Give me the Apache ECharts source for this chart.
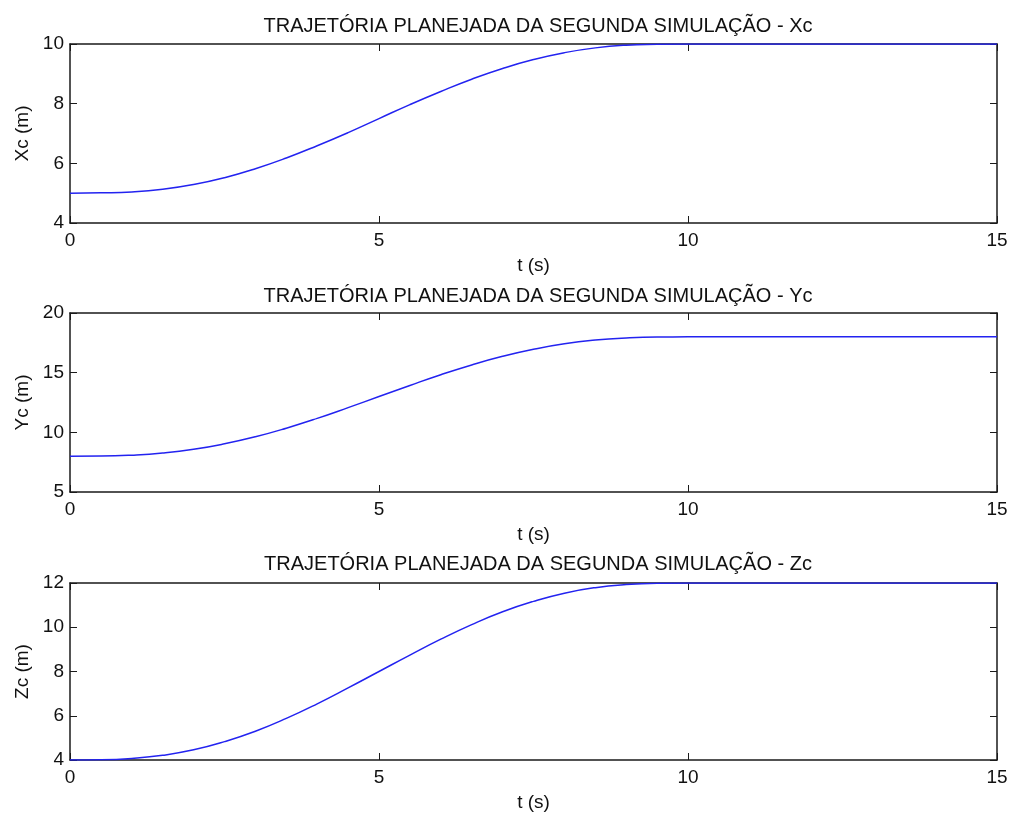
<!DOCTYPE html>
<html>
<head>
<meta charset="utf-8">
<script src="https://cdn.jsdelivr.net/npm/echarts@6/dist/echarts.min.js"></script>
<style>
  html, body { margin: 0; padding: 0; background: #fff; }
  #chart { width: 1011px; height: 818px; }
</style>
</head>
<body>
<div id="chart"></div>
<script>
// tempo (s) e trajetórias
var tempo = [0, 0.5, 1, 1.5, 2, 2.5, 3, 3.5, 4, 4.5, 5, 5.5, 6, 6.5, 7, 7.5, 8, 8.5, 9, 9.5, 10,
  10.5, 11, 11.5, 12, 12.5, 13, 13.5, 14, 14.5, 15];
var xc = [5, 5.01, 5.04, 5.13, 5.29, 5.52, 5.82, 6.18, 6.59, 7.03, 7.5, 7.97, 8.41, 8.82, 9.18, 9.48, 9.71, 9.87, 9.96, 9.99, 10,
  10, 10, 10, 10, 10, 10, 10, 10, 10, 10];
var yc = [8, 8.01, 8.09, 8.27, 8.58, 9.04, 9.63, 10.35, 11.17, 12.07, 13, 13.93, 14.83, 15.65, 16.37, 16.96, 17.42, 17.73, 17.91, 17.99, 18,
  18, 18, 18, 18, 18, 18, 18, 18, 18, 18];
var zc = [4, 4.01, 4.07, 4.21, 4.46, 4.83, 5.3, 5.88, 6.54, 7.26, 8, 8.74, 9.46, 10.12, 10.7, 11.17, 11.54, 11.79, 11.93, 11.99, 12,
  12, 12, 12, 12, 12, 12, 12, 12, 12, 12];

var titulos = [
  "TRAJETÓRIA PLANEJADA DA SEGUNDA SIMULAÇÃO - Xc",
  "TRAJETÓRIA PLANEJADA DA SEGUNDA SIMULAÇÃO - Yc",
  "TRAJETÓRIA PLANEJADA DA SEGUNDA SIMULAÇÃO - Zc"
];
var nomesY = ["Xc (m)", "Yc (m)", "Zc (m)"];
var limitesY = [[4, 10, 2], [5, 20, 5], [4, 12, 2]];
var series = [xc, yc, zc];

var fonte = "Liberation Sans, Arial, sans-serif";
var tam = 19;
var corEixo = "#1a1a1a";
var grids = [
  { left: 70, right: 14, top: 44, height: 179 },
  { left: 70, right: 14, top: 313, height: 179 },
  { left: 70, right: 14, top: 583, height: 177 }
];
var titleTops = [11, 281, 549];

var myChart = echarts.init(document.getElementById("chart"));

var xAxis = [], yAxis = [], serie = [], title = [];
for (var i = 0; i < 3; i++) {
  var lim = limitesY[i];
  title.push({
    text: titulos[i],
    left: 533,
    top: titleTops[i],
    textAlign: "center",
    textStyle: { fontFamily: fonte, fontSize: 20, fontWeight: "normal", color: "#111" }
  });
  // eixo x inferior
  xAxis.push({
    type: "value", gridIndex: i, min: 0, max: 15, interval: 5,
    name: "t (s)", nameLocation: "middle", nameGap: 33,
    nameTextStyle: { fontFamily: fonte, fontSize: tam, color: "#111" },
    axisLine: { onZero: false, lineStyle: { color: corEixo, width: 1.5 } },
    axisTick: { inside: true, length: 7, lineStyle: { color: corEixo } },
    axisLabel: { margin: 8, fontFamily: fonte, fontSize: tam, color: "#111" },
    splitLine: { show: false }
  });
  // eixo x superior (só marcas)
  xAxis.push({
    type: "value", gridIndex: i, position: "top", min: 0, max: 15, interval: 5,
    axisLine: { onZero: false, lineStyle: { color: corEixo, width: 1.5 } },
    axisTick: { inside: true, length: 7, lineStyle: { color: corEixo } },
    axisLabel: { show: false },
    splitLine: { show: false }
  });
  yAxis.push({
    type: "value", gridIndex: i, min: lim[0], max: lim[1], interval: lim[2],
    name: nomesY[i], nameLocation: "middle", nameGap: 37,
    nameTextStyle: { fontFamily: fonte, fontSize: tam, color: "#111" },
    axisLine: { show: true, onZero: false, lineStyle: { color: corEixo, width: 1.5 } },
    axisTick: { show: true, inside: true, length: 7, lineStyle: { color: corEixo } },
    axisLabel: { margin: 6, fontFamily: fonte, fontSize: tam, color: "#111" },
    splitLine: { show: false }
  });
  yAxis.push({
    type: "value", gridIndex: i, position: "right", min: lim[0], max: lim[1], interval: lim[2],
    axisLine: { show: true, onZero: false, lineStyle: { color: corEixo, width: 1.5 } },
    axisTick: { show: true, inside: true, length: 7, lineStyle: { color: corEixo } },
    axisLabel: { show: false },
    splitLine: { show: false }
  });
  var dados = [];
  for (var k = 0; k < tempo.length; k++) {
    dados.push([tempo[k], series[i][k]]);
  }
  serie.push({
    type: "line", xAxisIndex: 2 * i, yAxisIndex: 2 * i,
    data: dados, showSymbol: false, smooth: true,
    lineStyle: { color: "#2323f0", width: 1.5 },
    animation: false
  });
}

var option = {
  backgroundColor: "#fff",
  animation: false,
  title: title,
  grid: grids,
  xAxis: xAxis,
  yAxis: yAxis,
  series: serie
};
myChart.setOption(option);
</script>
</body>
</html>
